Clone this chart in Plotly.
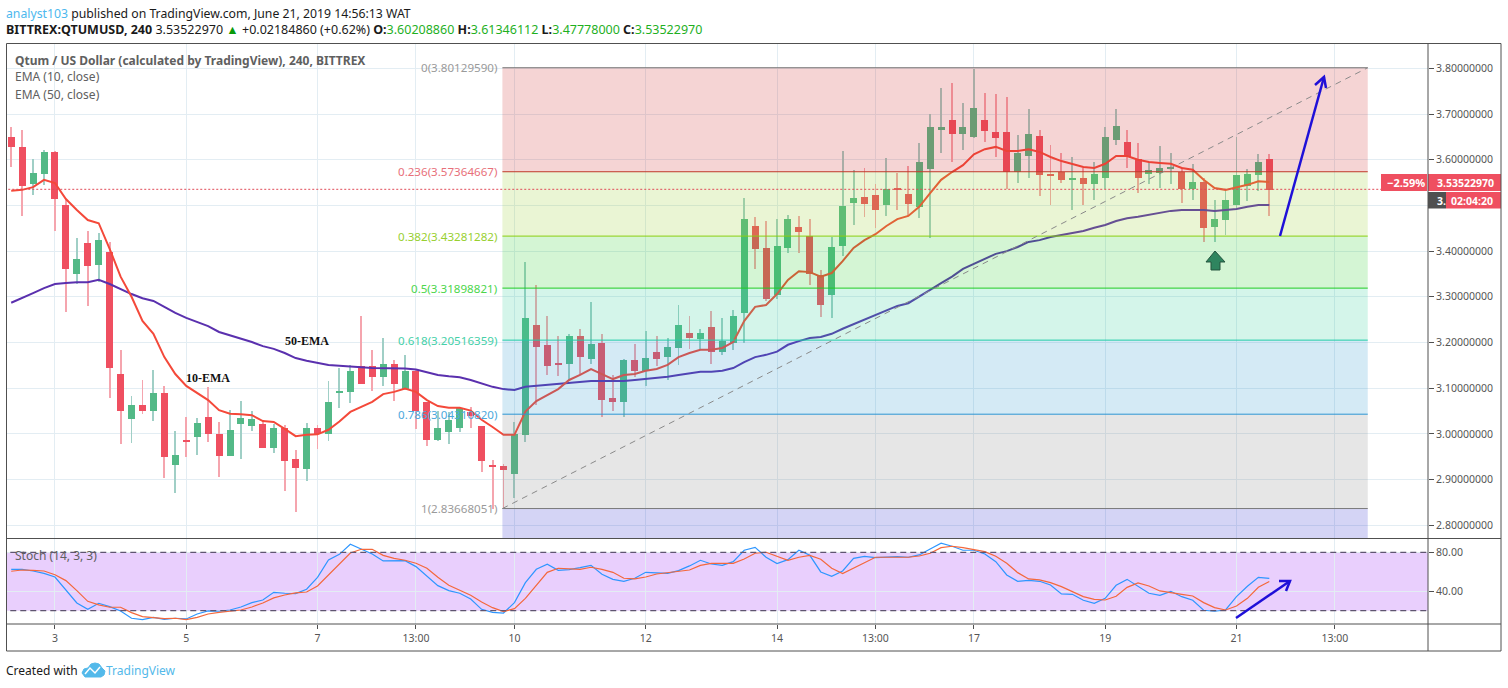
import plotly.graph_objects as go
from plotly.subplots import make_subplots

WIDTH = 1508
HEIGHT = 688

# 4h candles
candle_open = [
    3.650, 3.628, 3.547, 3.569, 3.619, 3.501, 3.352, 3.419, 3.370, 3.400,
    3.133, 3.033, 3.065, 3.051, 3.090, 2.933, 2.987, 2.994, 3.037, 3.000,
    2.952, 3.022, 3.018, 3.022, 2.970, 3.015, 2.947, 2.924, 3.013, 3.000,
    3.090, 3.092, 3.149, 3.149, 3.125, 3.153, 3.100, 3.138, 3.070, 2.987,
    3.005, 3.014, 3.050, 3.019, 2.933, 2.930, 2.913, 2.998, 3.240, 3.195,
    3.156, 3.153, 3.216, 3.164, 3.201, 3.079, 3.072, 3.162, 3.138, 3.181,
    3.170, 3.190, 3.221, 3.208, 3.234, 3.181, 3.199, 3.265, 3.455, 3.407,
    3.306, 3.407, 3.453, 3.435, 3.348, 3.304, 3.413, 3.507, 3.520, 3.523,
    3.503, 3.540, 3.525, 3.497, 3.580, 3.665, 3.689, 3.658, 3.650, 3.689,
    3.661, 3.661, 3.575, 3.610, 3.654, 3.569, 3.575, 3.556, 3.562, 3.547,
    3.562, 3.645, 3.639, 3.602, 3.569, 3.573, 3.581, 3.575, 3.536, 3.553,
    3.453, 3.470, 3.501, 3.543, 3.567, 3.602,
]
candle_high = [
    3.672, 3.665, 3.602, 3.623, 3.620, 3.512, 3.429, 3.446, 3.440, 3.420,
    3.184, 3.085, 3.120, 3.142, 3.107, 3.008, 3.037, 3.035, 3.103, 3.028,
    3.054, 3.074, 3.052, 3.031, 3.022, 3.020, 2.965, 3.026, 3.020, 3.116,
    3.145, 3.151, 3.258, 3.184, 3.212, 3.162, 3.173, 3.140, 3.070, 3.052,
    3.049, 3.060, 3.061, 3.019, 2.945, 2.936, 3.027, 3.378, 3.326, 3.258,
    3.216, 3.219, 3.230, 3.289, 3.219, 3.129, 3.166, 3.197, 3.227, 3.216,
    3.212, 3.284, 3.260, 3.230, 3.271, 3.254, 3.273, 3.518, 3.475, 3.468,
    3.472, 3.481, 3.479, 3.472, 3.359, 3.431, 3.620, 3.578, 3.582, 3.547,
    3.604, 3.571, 3.588, 3.637, 3.702, 3.757, 3.768, 3.726, 3.800, 3.746,
    3.744, 3.739, 3.656, 3.711, 3.667, 3.634, 3.615, 3.608, 3.584, 3.597,
    3.672, 3.713, 3.665, 3.637, 3.595, 3.630, 3.615, 3.586, 3.591, 3.562,
    3.512, 3.534, 3.650, 3.580, 3.613, 3.613,
]
candle_low = [
    3.585, 3.477, 3.523, 3.545, 3.444, 3.267, 3.330, 3.282, 3.333, 3.079,
    2.980, 2.981, 3.044, 3.029, 2.904, 2.871, 2.950, 2.955, 2.983, 2.906,
    2.952, 2.946, 3.007, 2.970, 2.959, 2.876, 2.830, 2.898, 2.968, 2.985,
    3.057, 3.068, 3.110, 3.096, 3.105, 3.073, 3.098, 3.011, 2.974, 2.985,
    2.978, 3.005, 3.014, 2.917, 2.837, 2.838, 2.860, 2.983, 3.065, 3.129,
    3.127, 3.118, 3.129, 3.153, 3.038, 3.052, 3.038, 3.125, 3.107, 3.149,
    3.120, 3.151, 3.186, 3.184, 3.153, 3.173, 3.184, 3.200, 3.361, 3.291,
    3.297, 3.396, 3.396, 3.326, 3.256, 3.254, 3.391, 3.459, 3.475, 3.451,
    3.479, 3.492, 3.479, 3.473, 3.429, 3.615, 3.597, 3.623, 3.648, 3.639,
    3.608, 3.536, 3.551, 3.562, 3.521, 3.501, 3.551, 3.490, 3.503, 3.512,
    3.536, 3.634, 3.582, 3.529, 3.549, 3.540, 3.549, 3.507, 3.512, 3.422,
    3.420, 3.437, 3.490, 3.510, 3.532, 3.478,
]
candle_close = [
    3.628, 3.543, 3.571, 3.619, 3.516, 3.363, 3.383, 3.368, 3.426, 3.146,
    3.051, 3.065, 3.051, 3.090, 2.950, 2.956, 2.985, 3.026, 3.000, 2.952,
    3.009, 3.035, 3.033, 2.970, 3.015, 2.941, 2.926, 3.015, 3.000, 3.072,
    3.096, 3.138, 3.111, 3.125, 3.155, 3.111, 3.138, 3.052, 2.987, 3.015,
    3.031, 3.057, 3.040, 2.941, 2.928, 2.923, 3.000, 3.254, 3.191, 3.149,
    3.154, 3.216, 3.170, 3.197, 3.076, 3.072, 3.162, 3.138, 3.168, 3.164,
    3.192, 3.240, 3.212, 3.221, 3.181, 3.205, 3.258, 3.472, 3.405, 3.297,
    3.413, 3.472, 3.442, 3.352, 3.284, 3.409, 3.499, 3.518, 3.505, 3.490,
    3.536, 3.534, 3.505, 3.595, 3.672, 3.672, 3.658, 3.672, 3.715, 3.663,
    3.648, 3.575, 3.615, 3.658, 3.567, 3.566, 3.556, 3.562, 3.549, 3.569,
    3.650, 3.674, 3.606, 3.562, 3.578, 3.582, 3.583, 3.536, 3.553, 3.451,
    3.472, 3.514, 3.567, 3.569, 3.595, 3.535,
]

ema_10 = [
    3.532, 3.534, 3.540, 3.556, 3.549, 3.514, 3.490, 3.468, 3.461, 3.405,
    3.344, 3.300, 3.247, 3.219, 3.168, 3.131, 3.105, 3.090, 3.074, 3.052,
    3.044, 3.043, 3.041, 3.028, 3.026, 3.011, 2.995, 2.998, 2.999, 3.009,
    3.027, 3.048, 3.059, 3.070, 3.087, 3.092, 3.099, 3.092, 3.074, 3.061,
    3.057, 3.057, 3.051, 3.031, 3.015, 2.998, 2.998, 3.049, 3.072, 3.085,
    3.098, 3.118, 3.129, 3.142, 3.131, 3.120, 3.129, 3.131, 3.138, 3.142,
    3.151, 3.168, 3.177, 3.184, 3.184, 3.188, 3.201, 3.247, 3.278, 3.282,
    3.306, 3.337, 3.356, 3.354, 3.344, 3.352, 3.378, 3.407, 3.424, 3.437,
    3.455, 3.470, 3.477, 3.497, 3.527, 3.556, 3.573, 3.588, 3.612, 3.623,
    3.628, 3.619, 3.619, 3.623, 3.617, 3.606, 3.597, 3.591, 3.584, 3.582,
    3.591, 3.608, 3.608, 3.600, 3.595, 3.593, 3.591, 3.582, 3.578, 3.556,
    3.538, 3.534, 3.540, 3.545, 3.553, 3.551,
]
ema_50 = [
    3.287, 3.297, 3.308, 3.319, 3.328, 3.330, 3.332, 3.332, 3.337, 3.328,
    3.317, 3.306, 3.297, 3.291, 3.278, 3.265, 3.254, 3.245, 3.236, 3.223,
    3.216, 3.208, 3.201, 3.192, 3.186, 3.177, 3.166, 3.160, 3.155, 3.151,
    3.149, 3.148, 3.146, 3.144, 3.144, 3.144, 3.143, 3.141, 3.135, 3.129,
    3.126, 3.124, 3.118, 3.111, 3.103, 3.098, 3.096, 3.103, 3.105, 3.107,
    3.109, 3.111, 3.114, 3.116, 3.116, 3.116, 3.116, 3.118, 3.120, 3.122,
    3.125, 3.129, 3.133, 3.136, 3.136, 3.138, 3.144, 3.157, 3.168, 3.173,
    3.180, 3.195, 3.203, 3.210, 3.212, 3.219, 3.230, 3.240, 3.251, 3.260,
    3.271, 3.280, 3.286, 3.300, 3.315, 3.330, 3.344, 3.361, 3.372, 3.383,
    3.394, 3.400, 3.409, 3.420, 3.424, 3.431, 3.435, 3.440, 3.444, 3.451,
    3.457, 3.466, 3.472, 3.475, 3.479, 3.483, 3.488, 3.490, 3.490, 3.490,
    3.488, 3.490, 3.492, 3.497, 3.501, 3.501,
]
stoch_k = [
    62.5, 62.5, 60.8, 58.4, 54.6, 41.3, 27.9, 21.4, 27.6, 24.2,
    19.7, 12.2, 10.8, 13.2, 11.1, 12.2, 11.5, 16.6, 19.7, 19.4,
    20.7, 23.8, 28.3, 31.0, 38.9, 37.9, 37.5, 42.0, 54.3, 72.1,
    77.9, 88.2, 83.4, 78.3, 71.1, 71.1, 71.4, 65.3, 55.0, 45.7,
    40.6, 37.9, 32.0, 21.4, 18.3, 17.6, 28.3, 48.8, 62.5, 67.7,
    61.5, 62.2, 64.2, 66.6, 57.4, 52.2, 50.2, 53.3, 59.4, 59.1,
    58.4, 61.2, 66.0, 71.8, 68.0, 66.6, 70.4, 82.1, 85.1, 74.9,
    68.4, 72.5, 82.1, 76.9, 59.8, 55.3, 60.8, 73.8, 75.9, 74.5,
    74.9, 75.5, 74.9, 77.3, 83.4, 89.3, 86.2, 82.1, 82.1, 78.3,
    70.4, 56.7, 50.2, 51.2, 50.2, 46.4, 37.2, 36.8, 30.7, 27.6,
    32.7, 46.1, 52.2, 45.4, 37.9, 35.8, 39.9, 34.4, 30.7, 20.4,
    19.4, 20.7, 34.4, 45.1, 54.3, 53.3,
]
stoch_d = [
    60.5, 61.8, 61.5, 60.8, 57.0, 50.9, 40.6, 29.6, 25.9, 23.5,
    23.5, 18.0, 13.9, 12.5, 11.8, 12.2, 10.8, 13.2, 16.6, 18.3,
    19.4, 20.7, 23.8, 27.9, 33.1, 36.1, 38.2, 39.2, 45.4, 57.0,
    68.0, 79.3, 83.1, 83.1, 76.9, 73.8, 71.8, 68.7, 63.6, 54.3,
    46.1, 40.9, 35.8, 29.0, 23.1, 19.0, 22.1, 32.7, 46.4, 59.4,
    63.6, 63.2, 62.5, 64.6, 62.5, 59.4, 53.3, 52.6, 54.6, 57.7,
    59.1, 59.8, 61.8, 66.6, 68.7, 68.7, 68.7, 73.1, 79.0, 80.0,
    75.5, 71.8, 74.9, 76.9, 72.8, 63.6, 58.1, 63.6, 69.7, 74.9,
    74.9, 74.9, 74.9, 76.2, 79.0, 84.8, 86.2, 84.8, 83.1, 80.7,
    75.9, 68.7, 59.1, 52.6, 51.6, 48.8, 44.7, 39.6, 34.4, 31.7,
    31.0, 34.8, 44.0, 48.5, 45.4, 40.3, 38.2, 36.8, 35.1, 28.3,
    23.1, 20.7, 24.8, 32.7, 44.0, 49.9,
]

# bottom axis
time_tick_index = [4, 16, 28, 37, 46, 58, 70, 79, 88, 100, 112, 121]
time_tick_labels = ['3', '5', '7', '13:00', '10', '12', '14', '13:00', '17', '19', '21', '13:00']
price_ticks = [2.8, 2.9, 3.0, 3.1, 3.2, 3.3, 3.4, 3.5, 3.6, 3.7, 3.8]
# 3.5 sits completely behind the price tags in the reference
price_tick_labels = ['2.80000000', '2.90000000', '3.00000000', '3.10000000', '3.20000000', '3.30000000',
                     '3.40000000', '', '3.60000000', '3.70000000', '3.80000000']
stoch_ticks = [40, 80]

# fibonacci retracement
fib_ratios = ['0', '0.236', '0.382', '0.5', '0.618', '0.786', '1']
fib_prices = [3.80129590, 3.57364667, 3.43281282, 3.31898821, 3.20516359, 3.04310820, 2.83668051]
fib_line_colors = ['#7a7a7a', '#c0392b', '#8ccf10', '#22cc22', '#22ccaa', '#2d95d2', '#7a7a7a']
fib_text_colors = ['#9a9a9a', '#e8707a', '#98d030', '#4cd64c', '#45d0a8', '#4ca8dc', '#9a9a9a']
fib_zone_colors = ['rgba(204,40,40,0.2)', 'rgba(149,204,40,0.2)', 'rgba(40,204,40,0.2)',
                   'rgba(40,204,149,0.2)', 'rgba(40,149,204,0.2)', 'rgba(128,128,128,0.2)',
                   'rgba(40,40,204,0.2)']
FIB_START = 44.9
FIB_END = 124
LAST_PRICE = 3.53522970

RED = '#ef4f60'
GREEN = '#53b987'
RED_WICK = '#f5a5ae'
GREEN_WICK = '#a0cfc6'
GRID = '#e3edf3'
FRAME = '#505050'
TEXT = '#555555'
FONT = 'Noto Sans'

# pixel rows of the panes
X_LEFT, X_RIGHT = 7, 1428
MAIN_TOP, MAIN_BOTTOM = 43.5, 538.5
STOCH_BOTTOM = 624
FRAME_RIGHT, FRAME_BOTTOM = 1501, 651


def px(x):
    return x / WIDTH


def py(y):
    return 1 - y / HEIGHT


index = list(range(len(candle_open)))
up = [c >= o for o, c in zip(candle_open, candle_close)]

fig = make_subplots(rows=2, cols=1, shared_xaxes=True)

# wicks and bodies
fig.add_trace(go.Bar(
    x=index,
    y=[h - l for h, l in zip(candle_high, candle_low)],
    base=candle_low,
    width=0.085,
    marker=dict(color=[GREEN_WICK if u else RED_WICK for u in up], line_width=0),
), row=1, col=1)
fig.add_trace(go.Bar(
    x=index,
    y=[max(abs(c - o), 0.003) for o, c in zip(candle_open, candle_close)],
    base=[min(o, c) for o, c in zip(candle_open, candle_close)],
    width=0.64,
    marker=dict(color=[GREEN if u else RED for u in up], line_width=0),
), row=1, col=1)

fig.add_trace(go.Scatter(x=index, y=ema_50, mode='lines', line=dict(color='#5a30ae', width=2)), row=1, col=1)
fig.add_trace(go.Scatter(x=index, y=ema_10, mode='lines', line=dict(color='#f4493a', width=2)), row=1, col=1)

fig.add_trace(go.Scatter(x=index, y=stoch_k, mode='lines', line=dict(color='#2e96ff', width=1.2)), row=2, col=1)
fig.add_trace(go.Scatter(x=index, y=stoch_d, mode='lines', line=dict(color='#f4683c', width=1.2)), row=2, col=1)

shapes = []

# fib zones sit over the candles, that's why the bodies look tinted
zone_edges = fib_prices + [2.7]
for i, color in enumerate(fib_zone_colors):
    shapes.append(dict(type='rect', xref='x', yref='y', x0=FIB_START, x1=FIB_END,
                       y0=zone_edges[i], y1=zone_edges[i + 1],
                       fillcolor=color, line_width=0, layer='above'))
for price, color in zip(fib_prices, fib_line_colors):
    shapes.append(dict(type='line', xref='x', yref='y', x0=FIB_START, x1=FIB_END, y0=price, y1=price,
                       line=dict(color=color, width=1), layer='above'))
# fib trend line
shapes.append(dict(type='line', xref='x', yref='y', x0=FIB_START, x1=FIB_END,
                   y0=fib_prices[-1], y1=fib_prices[0],
                   line=dict(color='#8a8a8a', width=1, dash='6px,5px'), layer='above'))
# last price
shapes.append(dict(type='line', xref='x', yref='y', x0=-1, x1=130, y0=LAST_PRICE, y1=LAST_PRICE,
                   line=dict(color='#e04a58', width=1, dash='2px,2px'), layer='above'))

# stoch band
shapes.append(dict(type='rect', xref='x2', yref='y2', x0=-1, x1=130, y0=20, y1=80,
                   fillcolor='rgba(145,15,245,0.2)', line_width=0, layer='below'))
for level in [20, 80]:
    shapes.append(dict(type='line', xref='x2', yref='y2', x0=-1, x1=130, y0=level, y1=level,
                       line=dict(color='#5f5570', width=1.2, dash='6px,4px'), layer='above'))


def pixel_path(points, color, width=2.5, fill=None, close=False):
    path = 'M ' + ' L '.join(f'{px(x):.5f} {py(y):.5f}' for x, y in points)
    if close:
        path += ' Z'
    return dict(type='path', xref='paper', yref='paper', path=path,
                line=dict(color=color, width=width), fillcolor=fill, layer='above')


def pixel_box(x0, y0, x1, y1, color):
    return dict(type='rect', xref='paper', yref='paper', x0=px(x0), x1=px(x1), y0=py(y0), y1=py(y1),
                fillcolor=color, line_width=0, layer='above')


# hand drawn arrows
BLUE = '#1f10d8'
shapes.append(pixel_path([(1280, 236), (1324, 77)], BLUE))
shapes.append(pixel_path([(1315, 85), (1324, 77), (1326, 88)], BLUE))
shapes.append(pixel_path([(1236, 618), (1290, 581)], BLUE))
shapes.append(pixel_path([(1279, 581), (1290, 581), (1286, 591)], BLUE))
shapes.append(pixel_path([(1215, 251), (1206, 262), (1211, 262), (1211, 270), (1220, 270), (1220, 262), (1225, 262)],
                         '#24543e', width=1, fill='#2f855f', close=True))

# price tags
shapes.append(pixel_box(1381, 174, 1427, 191, RED))
shapes.append(pixel_box(1428, 174, FRAME_RIGHT, 191, RED))
shapes.append(pixel_box(1428, 192, 1446, 208.5, '#505050'))
shapes.append(pixel_box(1446, 192, FRAME_RIGHT, 208.5, RED))

# frame
shapes.append(dict(type='rect', xref='paper', yref='paper', x0=px(6.5), x1=px(FRAME_RIGHT),
                   y0=py(FRAME_BOTTOM), y1=py(MAIN_TOP), line=dict(color=FRAME, width=1), layer='above'))
for y in [MAIN_BOTTOM, STOCH_BOTTOM]:
    shapes.append(dict(type='line', xref='paper', yref='paper', x0=px(6.5), x1=px(FRAME_RIGHT),
                       y0=py(y), y1=py(y), line=dict(color=FRAME, width=1), layer='above'))
shapes.append(dict(type='line', xref='paper', yref='paper', x0=px(X_RIGHT), x1=px(X_RIGHT),
                   y0=py(MAIN_TOP), y1=py(FRAME_BOTTOM), line=dict(color=FRAME, width=1), layer='above'))

# tradingview logo
shapes.append(pixel_path([(82, 673), (84, 669), (88, 668), (91, 664), (95, 663), (99, 664), (102, 668), (105, 671),
                          (104, 675), (101, 677), (85, 677)],
                         '#53b9ea', width=1, fill='#53b9ea', close=True))
shapes.append(pixel_path([(85, 674), (90, 668), (95, 673), (100, 667)], 'white', width=1.5))

annotations = []


def add_text(x, y, text, size=12, color=TEXT, anchor='left', family=FONT):
    annotations.append(dict(xref='paper', yref='paper', x=px(x), y=py(y), text=text, showarrow=False,
                            xanchor=anchor, yanchor='middle', align=anchor,
                            font=dict(family=family, size=size, color=color),
                            borderpad=0, borderwidth=0))


def span(text, color):
    return f'<span style="color:{color}">{text}</span>'


HEAD = '#1a1a1a'
VALUE = '#1fb01f'
add_text(6, 13, span('analyst103', '#4db8ee') + span(' published on TradingView.com, June 21, 2019 14:56:13 WAT', HEAD),
         size=12.25)
add_text(6, 30, span('<b>BITTREX:QTUMUSD, 240</b> 3.53522970 ', HEAD) + span('▲', '#0a9a0a')
         + span(' +0.02184860 (+0.62%) <b>O:</b>', HEAD) + span('3.60208860', VALUE)
         + span(' <b>H:</b>', HEAD) + span('3.61346112', VALUE)
         + span(' <b>L:</b>', HEAD) + span('3.47778000', VALUE)
         + span(' <b>C:</b>', HEAD) + span('3.53522970', VALUE), size=12.5)

add_text(15, 60, '<b>Qtum / US Dollar (calculated by TradingView), 240, BITTREX</b>', size=12, color='#606060')
add_text(15, 77, 'EMA (10, close)', color='#606060')
add_text(15, 94, 'EMA (50, close)', color='#606060')
add_text(15, 555, 'Stoch (14, 3, 3)', color='#606060')

add_text(285, 341, '<b>50-EMA</b>', size=12, color='#111111', family='Liberation Serif')
add_text(186, 378, '<b>10-EMA</b>', size=12, color='#111111', family='Liberation Serif')

# fib labels, right aligned against the start of the zones
for ratio, price, color in zip(fib_ratios, fib_prices, fib_text_colors):
    annotations.append(dict(xref='x', yref='y', x=FIB_START, y=price, text=f'{ratio}({price:.8f})',
                            showarrow=False, xanchor='right', yanchor='middle', xshift=-2,
                            font=dict(family=FONT, size=11.6, color=color)))

add_text(1406, 182.5, '<b>−2.59%</b>', size=11, color='white', anchor='center')
add_text(1465, 182.5, '<b>3.53522970</b>', size=10.5, color='white', anchor='center')
add_text(1437, 200.5, '<b>3.</b>', size=10.5, color='white')
add_text(1471.5, 200.5, '<b>02:04:20</b>', size=10.5, color='white', anchor='center')

add_text(6, 670, 'Created with', color=HEAD)
add_text(106, 670, 'TradingView', color='#53b9ea')

fig.update_layout(
    width=WIDTH,
    height=HEIGHT,
    autosize=False,
    margin=dict(l=0, r=0, t=0, b=0),
    paper_bgcolor='white',
    plot_bgcolor='white',
    showlegend=False,
    barmode='overlay',
    bargap=0,
    font=dict(family=FONT, size=10.5, color=TEXT),
    shapes=shapes,
    annotations=annotations,
)

axis_range = [(X_LEFT - 11.2) / 10.94, (X_RIGHT - 11.2) / 10.94]
x_domain = [px(X_LEFT), px(X_RIGHT)]
fig.update_xaxes(range=axis_range, domain=x_domain, showgrid=True, gridcolor=GRID, gridwidth=1,
                 zeroline=False, showline=False, tickmode='array', tickvals=time_tick_index)
fig.update_xaxes(showticklabels=False, ticks='', row=1, col=1)
fig.update_xaxes(ticktext=time_tick_labels, ticks='outside', ticklen=4, tickcolor=FRAME,
                 tickfont=dict(family=FONT, size=10.5, color=TEXT), row=2, col=1)

price_top = 3.8 + (68.3 - MAIN_TOP) / 457
price_bottom = 3.8 - (MAIN_BOTTOM - 68.3) / 457
fig.update_yaxes(domain=[py(MAIN_BOTTOM), py(MAIN_TOP)], range=[price_bottom, price_top], side='right',
                 tickmode='array', tickvals=price_ticks, ticktext=price_tick_labels,
                 showgrid=True, gridcolor=GRID, zeroline=False, showline=False, ticks='outside',
                 ticklen=5, tickcolor=FRAME, tickfont=dict(family=FONT, size=10.5, color=TEXT),
                 row=1, col=1)
stoch_top = 80 + (552.3 - MAIN_BOTTOM) / 0.973
stoch_bottom = 80 - (STOCH_BOTTOM - 552.3) / 0.973
fig.update_yaxes(domain=[py(STOCH_BOTTOM), py(MAIN_BOTTOM)], range=[stoch_bottom, stoch_top], side='right',
                 tickmode='array', tickvals=stoch_ticks, ticktext=[f'{s:.2f}' for s in stoch_ticks],
                 showgrid=True, gridcolor=GRID, zeroline=False, showline=False, ticks='outside',
                 ticklen=5, tickcolor=FRAME, tickfont=dict(family=FONT, size=10.5, color=TEXT),
                 row=2, col=1)

fig.write_html('out.html', config={'displayModeBar': False},
               post_script="document.body.style.margin='0';")
